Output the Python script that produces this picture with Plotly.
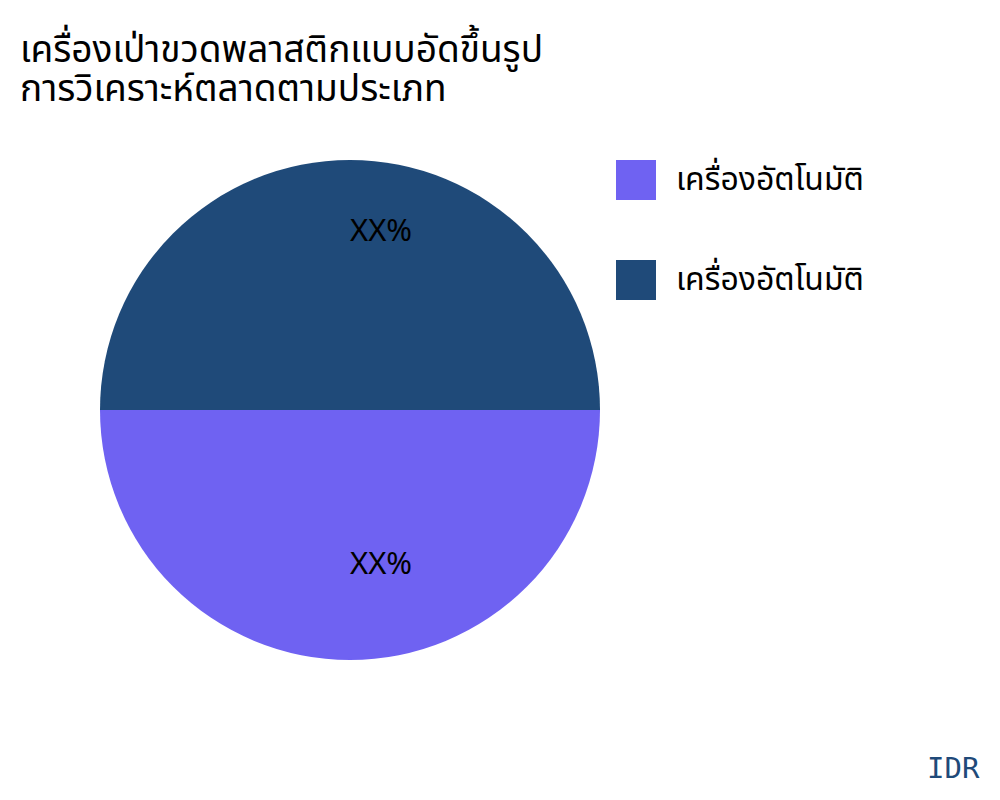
import math
import plotly.graph_objects as go

labels = ["เครื่องอัตโนมัติ", "เครื่องอัตโนมัติ\u200b"]
legend_names = ["เครื่องอัตโนมัติ", "เครื่องอัตโนมัติ"]
values = [50, 50]
slice_text = ["XX%", "XX%"]
colors = ["#6F62F2", "#1F4A79"]

title_lines = ["เครื่องเป่าขวดพลาสติกแบบอัดขึ้นรูป", "การวิเคราะห์ตลาดตามประเภท"]
source = "IDR"

FONT = "Noto Sans Thai, Noto Sans Thai UI, Noto Sans, sans-serif"
W, H = 1000, 800
OFF = 8  # page body margin in the browser


def px(x):
    return (x - OFF) / W


def py(y):
    return 1 - (y - OFF) / H


# pie: centre (350, 410), radius 250 in page pixels
CX, CY, R = 350, 410, 250
dom_x = [px(CX - R), px(CX + R)]
dom_y = [py(CY + R), py(CY - R)]

fig = go.Figure(go.Pie(
    labels=labels,
    values=values,
    textinfo="none",
    marker=dict(colors=colors, line=dict(width=0)),
    sort=False,
    direction="clockwise",
    rotation=90,
    domain=dict(x=dom_x, y=dom_y),
    showlegend=False,
    hoverinfo="label+percent",
))

shapes = []
annotations = []

# slice labels placed at each slice's mid-angle
total = sum(values)
start = 90.0  # degrees from 12 o'clock, clockwise
for v, t in zip(values, slice_text):
    sweep = 360.0 * v / total
    mid = math.radians(start + sweep / 2)
    r = 0.665 * R
    annotations.append(dict(text=t, xref="paper", yref="paper",
                            x=px(CX - 2 + r * math.sin(mid)),
                            y=py(CY - r * math.cos(mid)),
                            yshift=12,
                            xanchor="left", yanchor="middle", showarrow=False,
                            font=dict(size=31, color="black", family=FONT)))
    start += sweep

for i, (name, col) in enumerate(zip(legend_names, colors)):
    yc = 180 + i * 100
    shapes.append(dict(type="rect", xref="paper", yref="paper",
                       x0=px(616), x1=px(656),
                       y0=py(yc + 20), y1=py(yc - 20),
                       fillcolor=col, line=dict(width=0)))
    annotations.append(dict(text=name, xref="paper", yref="paper",
                            x=px(674), y=py(yc), xanchor="left", yanchor="middle",
                            showarrow=False, font=dict(size=32, color="black", family=FONT)))

title_html = "<br>".join(
    '<span style="font-size:37px">%s</span>' % line for line in title_lines)
annotations.append(dict(text=title_html, xref="paper", yref="paper",
                        x=px(18), y=py(70), xanchor="left", yanchor="middle",
                        align="left", showarrow=False,
                        font=dict(size=30, color="black", family=FONT)))

annotations.append(dict(text=source, xref="paper", yref="paper",
                        x=px(982), y=py(768), xanchor="right", yanchor="middle",
                        showarrow=False,
                        font=dict(size=29, color="#1F4A79", family="DejaVu Sans Mono, monospace")))

fig.update_layout(
    width=W, height=H,
    margin=dict(l=0, r=0, t=0, b=0),
    paper_bgcolor="white", plot_bgcolor="white",
    font=dict(family=FONT),
    shapes=shapes,
    annotations=annotations,
)

fig.write_html("out.html")
